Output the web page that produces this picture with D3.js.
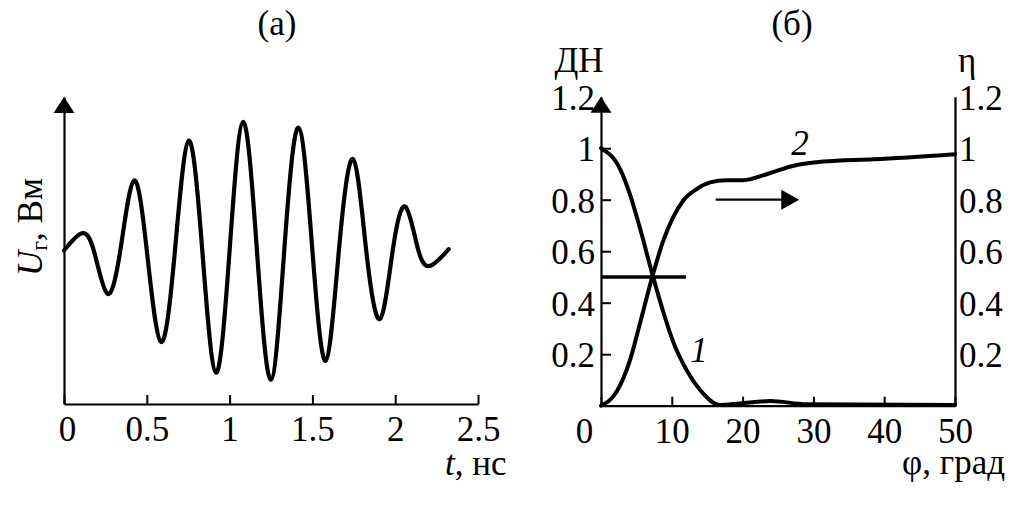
<!DOCTYPE html>
<html><head><meta charset="utf-8">
<script src="https://cdn.jsdelivr.net/npm/d3@7"></script>
<style>html,body{margin:0;padding:0;background:#fff;}</style>
</head>
<body>
<svg id="chart" width="1010" height="520"></svg>
<script>
// ---- Panel (а): generator voltage pulse ----
const waveT = [0, 0.104, 0.18, 0.261, 0.34, 0.422, 0.50, 0.586, 0.67, 0.753, 0.835, 0.918, 1.0, 1.082, 1.165, 1.249, 1.33, 1.416, 1.50, 1.580, 1.66, 1.745, 1.825, 1.908, 1.985, 2.062, 2.14, 2.217, 2.323];
const waveU = [0, 0.13, 0, -0.33, 0, 0.535, 0, -0.70, 0, 0.84, 0, -0.935, 0, 0.985, 0, -0.99, 0, 0.94, 0, -0.845, 0, 0.70, 0, -0.525, 0, 0.335, 0, -0.115, 0.01];
const tTicks = [0, 0.5, 1, 1.5, 2, 2.5];
const tTickLabels = ["0", "0.5", "1", "1.5", "2", "2.5"];

// ---- Panel (б): pattern (1) and efficiency (2) ----
const phi1 = [0, 2.7, 4.1, 5.5, 7.3, 8.8, 10.2, 12.1, 14.0, 16.8, 19.6, 23.9, 29, 50];
const dn1  = [1.0, 0.919, 0.82, 0.69, 0.506, 0.364, 0.248, 0.138, 0.061, 0.003, 0.009, 0.018, 0.006, 0.003];
const phi2 = [0, 2.2, 4.1, 5.5, 7.3, 8.8, 10.2, 11.6, 13.5, 15.4, 17.7, 20.1, 23.4, 27.2, 31.4, 38.5, 50];
const eta2 = [0, 0.054, 0.177, 0.319, 0.506, 0.641, 0.732, 0.796, 0.841, 0.867, 0.876, 0.876, 0.899, 0.932, 0.948, 0.957, 0.977];
const phiTicks = [0, 10, 20, 30, 40, 50];
const phiTickLabels = ["0", "10", "20", "30", "40", "50"];
const leftTicks = [0.2, 0.4, 0.6, 0.8, 1, 1.2];
const leftTickLabels = ["0.2", "0.4", "0.6", "0.8", "1", "1.2"];
const rightTicks = [0.2, 0.4, 0.6, 0.8, 1, 1.2];
const rightTickLabels = ["0.2", "0.4", "0.6", "0.8", "1", "1.2"];
const halfLevel = [0.5];
const halfLevelPhi = [0, 12];
const arrowPhi = [16.2, 28];
const arrowLevel = [0.8];

const FONT = '"Liberation Serif"';
const FS = 35;
const svg = d3.select("#chart");
svg.append("rect").attr("width",1010).attr("height",520).attr("fill","#fff");

function arrowHead(g, x, yTip) {
  g.append("path")
    .attr("d", `M${x},${yTip} L${x-10.5},${yTip+16} L${x+10.5},${yTip+16} Z`)
    .attr("fill","#000");
}
function styleText(sel) {
  sel.style("font-family", FONT).style("font-size", FS + "px").attr("fill","#000");
}

// ===== Panel (а) =====
const xA = d3.scaleLinear().domain([0, 2.5]).range([64, 478]);
const yA = d3.scaleLinear().domain([-1.175, 1.175]).range([404, 97]);
const gA = svg.append("g");

const axA = d3.axisBottom(xA).tickValues(tTicks)
  .tickFormat((d,i)=>tTickLabels[i]).tickSizeInner(-9).tickSizeOuter(0).tickPadding(12);
const gxA = gA.append("g").attr("transform",`translate(0,${yA.range()[0]})`).call(axA);
gxA.select(".domain").attr("stroke","#000").attr("stroke-width",2.2);
gxA.selectAll(".tick line").attr("stroke","#000").attr("stroke-width",2);
styleText(gxA.selectAll(".tick text"));
gxA.selectAll(".tick").filter(d=>d===0).select("text").attr("dx", 3);

const ayA = d3.axisLeft(yA).tickValues([]).tickSizeOuter(0);
const gyA = gA.append("g").attr("transform",`translate(${xA(0)},0)`).call(ayA);
gyA.select(".domain").attr("stroke","#000").attr("stroke-width",2.2);
arrowHead(gA, xA(0), yA.range()[1]);

const waveLine = d3.line().x((d,i)=>xA(waveT[i])).y(d=>yA(d)).curve(d3.curveNatural);
gA.append("path").attr("d", waveLine(waveU)).attr("fill","none")
  .attr("stroke","#000").attr("stroke-width",4.2).attr("stroke-linejoin","round").attr("stroke-linecap","round");

// labels
styleText(gA.append("text").attr("x",277).attr("y",35).attr("text-anchor","middle").text("(а)"));
const tl = gA.append("text").attr("x",445).attr("y",475);
styleText(tl);
tl.append("tspan").style("font-style","italic").text("t");
tl.append("tspan").text(", нс");
const ul = gA.append("text").attr("transform","translate(42,227) rotate(-90)").attr("text-anchor","middle");
styleText(ul);
ul.append("tspan").style("font-style","italic").text("U");
ul.append("tspan").style("font-size","24px").attr("dy",5).text("г");
ul.append("tspan").attr("dy",-5).text(", Вм");

// ===== Panel (б) =====
const xB = d3.scaleLinear().domain([0, 50]).range([601, 955]);
const yB = d3.scaleLinear().domain([0, 1.2]).range([405.7, 96.7]);
const gB = svg.append("g");

const axB = d3.axisBottom(xB).tickValues(phiTicks)
  .tickFormat((d,i)=>phiTickLabels[i]).tickSizeInner(-9).tickSizeOuter(0).tickPadding(12);
const gxB = gB.append("g").attr("transform",`translate(0,${yB(0)})`).call(axB);
gxB.select(".domain").attr("stroke","#000").attr("stroke-width",2.2);
gxB.selectAll(".tick line").attr("stroke","#000").attr("stroke-width",2);
styleText(gxB.selectAll(".tick text"));
gxB.selectAll(".tick").filter(d=>d===0).select("text").attr("dx",-17);

const ayB = d3.axisLeft(yB).tickValues(leftTicks).tickFormat((d,i)=>leftTickLabels[i])
  .tickSizeInner(-10).tickSizeOuter(0).tickPadding(6);
const gyB = gB.append("g").attr("transform",`translate(${xB(0)},0)`).call(ayB);
gyB.select(".domain").attr("stroke","#000").attr("stroke-width",2.2);
gyB.selectAll(".tick line").attr("stroke","#000").attr("stroke-width",2);
gyB.selectAll(".tick").filter(d=>d===1.2).select("line").remove();
styleText(gyB.selectAll(".tick text"));
gyB.selectAll(".tick text").attr("dy","0.36em");
arrowHead(gB, xB(0), yB(1.2));

const ayB2 = d3.axisRight(yB).tickValues(rightTicks).tickFormat((d,i)=>rightTickLabels[i])
  .tickSizeInner(0).tickSizeOuter(0).tickPadding(4);
const gyB2 = gB.append("g").attr("transform",`translate(${xB(50)},0)`).call(ayB2);
gyB2.select(".domain").attr("stroke","#000").attr("stroke-width",2.2);
gyB2.selectAll(".tick line").remove();
styleText(gyB2.selectAll(".tick text"));
gyB2.selectAll(".tick text").attr("dy","0.36em");

const l1 = d3.line().x((d,i)=>xB(phi1[i])).y(d=>yB(d)).curve(d3.curveMonotoneX);
const l2 = d3.line().x((d,i)=>xB(phi2[i])).y(d=>yB(d)).curve(d3.curveMonotoneX);
gB.append("path").attr("d", l1(dn1)).attr("fill","none").attr("stroke","#000").attr("stroke-width",4).attr("stroke-linecap","round");
gB.append("path").attr("d", l2(eta2)).attr("fill","none").attr("stroke","#000").attr("stroke-width",4).attr("stroke-linecap","round");

// 0.5 level line
gB.append("line").attr("x1",xB(halfLevelPhi[0])).attr("x2",xB(halfLevelPhi[1]))
  .attr("y1",yB(halfLevel[0])).attr("y2",yB(halfLevel[0])).attr("stroke","#000").attr("stroke-width",3.5);

// arrow pointing to right axis
const ay = yB(arrowLevel[0]);
gB.append("line").attr("x1",xB(arrowPhi[0])).attr("x2",xB(arrowPhi[1])-16)
  .attr("y1",ay).attr("y2",ay).attr("stroke","#000").attr("stroke-width",2.2);
gB.append("path").attr("d",`M${xB(arrowPhi[1])},${ay} L${xB(arrowPhi[1])-18},${ay-10} L${xB(arrowPhi[1])-18},${ay+10} Z`).attr("fill","#000");

// labels
function lab(x,y,anchor,txt,italic){
  const t = gB.append("text").attr("x",x).attr("y",y).attr("text-anchor",anchor).text(txt);
  styleText(t);
  if (italic) t.style("font-style","italic");
}
lab(792,35,"middle","(б)");
lab(579,72,"middle","ДН");
lab(958,72,"start","η");
lab(1005,474,"end","φ, град");
lab(699,362,"middle","1",true);
lab(800,155,"middle","2",true);
</script>
</body></html>
